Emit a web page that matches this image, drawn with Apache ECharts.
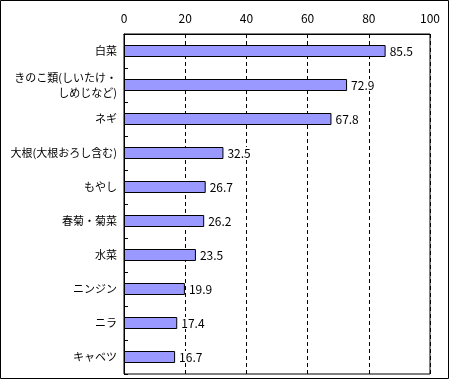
<!DOCTYPE html>
<html><head><meta charset="utf-8">
<script src="https://cdn.jsdelivr.net/npm/echarts@6/dist/echarts.min.js"></script>
<style>html,body{margin:0;padding:0;background:#fff}#c{width:450px;height:380px}</style>
</head><body><div id="c"></div>
<script>
const categories = ['白菜','きのこ類(しいたけ・\nしめじなど)','ネギ','大根(大根おろし含む)','もやし','春菊・菊菜','水菜','ニンジン','ニラ','キャベツ'];
const values = [85.5, 72.9, 67.8, 32.5, 26.7, 26.2, 23.5, 19.9, 17.4, 16.7];
const xTicks = [0, 20, 40, 60, 80, 100];
const font = '"Noto Sans CJK JP", "Noto Sans", sans-serif';
const chart = echarts.init(document.getElementById('c'), null, {renderer:'canvas'});
chart.setOption({
  animation:false,
  backgroundColor:'#fff',
  graphic:[{type:'rect', shape:{x:0.5,y:0.5,width:448,height:378}, style:{fill:'none',stroke:'#000',lineWidth:1}, z:100}],
  grid:{left:124, top:34, right:20, bottom:6, show:true, borderColor:'#000', borderWidth:1, backgroundColor:'#fff'},
  xAxis:{type:'value', position:'top', min:xTicks[0], max:xTicks[xTicks.length-1], interval:20,
    axisLine:{show:true, lineStyle:{color:'#000'}}, axisTick:{show:false},
    axisLabel:{color:'#000', fontSize:12, fontFamily:font, margin:10},
    splitLine:{show:true, lineStyle:{color:'#000', type:[4,3], width:1}}},
  yAxis:{type:'category', data:categories, inverse:true,
    axisLine:{show:true, lineStyle:{color:'#000'}},
    axisTick:{show:true, inside:true, length:4, lineStyle:{color:'#000'}},
    axisLabel:{color:'#000', fontSize:11, fontFamily:font, margin:7, lineHeight:15}},
  series:[{type:'bar', data:values, barWidth:12,
    itemStyle:{color:'#9999FF', borderColor:'#000', borderWidth:1},
    label:{show:true, position:'right', distance:3, color:'#000', fontSize:12, fontFamily:font,
      backgroundColor:'#fff', padding:[0,1]}}]
});
</script></body></html>
